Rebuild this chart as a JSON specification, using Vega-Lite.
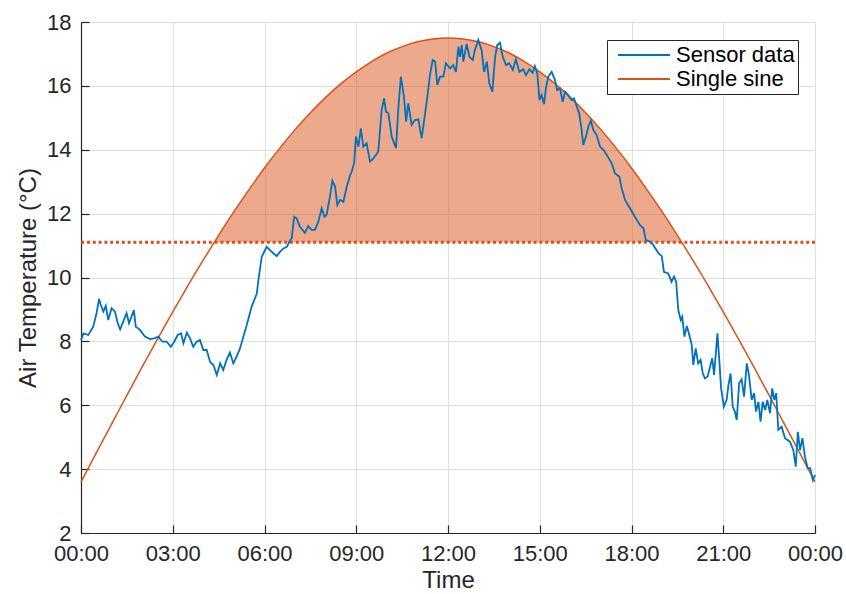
{
  "$schema": "https://vega.github.io/schema/vega-lite/v6.json",
  "width": 734,
  "height": 511,
  "autosize": {"type": "none"},
  "padding": {"left": 81, "top": 22, "right": 31, "bottom": 61},
  "background": "white",
  "config": {
    "view": {"stroke": null},
    "font": "Liberation Sans",
    "axis": {
      "grid": true,
      "gridColor": "#DFDFDF",
      "gridWidth": 1,
      "domainColor": "#262626",
      "domainWidth": 1.2,
      "tickColor": "#262626",
      "tickWidth": 1.2,
      "tickSize": -8,
      "labelFont": "Liberation Sans",
      "labelFontSize": 22,
      "labelColor": "#262626",
      "titleFont": "Liberation Sans",
      "titleFontSize": 24,
      "titleFontWeight": "normal",
      "titleColor": "#262626",
      "labelFlush": false,
      "labelOverlap": false
    }
  },
  "datasets": {
    "sensor": [
      {"h":0,"t":8.04},{"h":0.08,"t":8.25},{"h":0.24,"t":8.2},{"h":0.4,"t":8.46},{"h":0.51,"t":8.89},{"h":0.59,"t":9.33},{"h":0.65,"t":9.14},{"h":0.73,"t":8.93},{"h":0.81,"t":9.11},{"h":0.89,"t":8.67},{"h":1.0,"t":9.04},{"h":1.11,"t":8.93},{"h":1.2,"t":8.57},{"h":1.28,"t":8.38},{"h":1.38,"t":8.62},{"h":1.49,"t":8.88},{"h":1.57,"t":8.57},{"h":1.66,"t":8.8},{"h":1.73,"t":8.98},{"h":1.79,"t":8.46},{"h":1.93,"t":8.36},{"h":2.09,"t":8.15},{"h":2.26,"t":8.07},{"h":2.42,"t":8.1},{"h":2.53,"t":8.15},{"h":2.66,"t":7.99},{"h":2.8,"t":7.99},{"h":2.94,"t":7.83},{"h":3.05,"t":7.99},{"h":3.16,"t":8.2},{"h":3.27,"t":8.25},{"h":3.35,"t":7.94},{"h":3.46,"t":8.27},{"h":3.56,"t":8.1},{"h":3.67,"t":7.83},{"h":3.78,"t":7.99},{"h":3.89,"t":8.04},{"h":4.0,"t":7.73},{"h":4.11,"t":7.73},{"h":4.22,"t":7.36},{"h":4.33,"t":7.26},{"h":4.44,"t":6.95},{"h":4.55,"t":7.31},{"h":4.65,"t":7.1},{"h":4.76,"t":7.42},{"h":4.87,"t":7.65},{"h":4.98,"t":7.31},{"h":5.09,"t":7.52},{"h":5.2,"t":7.78},{"h":5.31,"t":8.15},{"h":5.42,"t":8.51},{"h":5.58,"t":9.09},{"h":5.75,"t":9.5},{"h":5.8,"t":9.92},{"h":5.91,"t":10.65},{"h":6.07,"t":10.96},{"h":6.18,"t":10.86},{"h":6.29,"t":10.76},{"h":6.4,"t":10.67},{"h":6.51,"t":10.81},{"h":6.62,"t":10.91},{"h":6.73,"t":10.96},{"h":6.83,"t":11.15},{"h":6.89,"t":11.23},{"h":6.97,"t":11.9},{"h":7.05,"t":11.85},{"h":7.16,"t":11.59},{"h":7.32,"t":11.4},{"h":7.43,"t":11.61},{"h":7.54,"t":11.49},{"h":7.65,"t":11.49},{"h":7.76,"t":11.75},{"h":7.87,"t":12.17},{"h":7.96,"t":11.9},{"h":8.03,"t":11.96},{"h":8.14,"t":12.53},{"h":8.22,"t":13.03},{"h":8.31,"t":12.84},{"h":8.38,"t":12.27},{"h":8.47,"t":12.43},{"h":8.58,"t":12.37},{"h":8.69,"t":12.84},{"h":8.8,"t":13.21},{"h":8.85,"t":13.31},{"h":8.93,"t":13.58},{"h":8.99,"t":14.41},{"h":9.07,"t":14.1},{"h":9.15,"t":14.67},{"h":9.23,"t":14.1},{"h":9.34,"t":14.2},{"h":9.45,"t":13.63},{"h":9.56,"t":13.73},{"h":9.72,"t":13.94},{"h":9.83,"t":15.24},{"h":9.91,"t":15.61},{"h":9.97,"t":15.19},{"h":10.05,"t":15.14},{"h":10.16,"t":14.41},{"h":10.3,"t":14.05},{"h":10.38,"t":15.35},{"h":10.46,"t":16.29},{"h":10.56,"t":15.66},{"h":10.63,"t":14.88},{"h":10.7,"t":15.45},{"h":10.81,"t":14.78},{"h":10.92,"t":14.93},{"h":11.03,"t":14.95},{"h":11.14,"t":14.36},{"h":11.25,"t":15.14},{"h":11.32,"t":15.61},{"h":11.41,"t":16.34},{"h":11.5,"t":16.81},{"h":11.58,"t":16.76},{"h":11.65,"t":16.03},{"h":11.74,"t":16.29},{"h":11.85,"t":16.29},{"h":11.93,"t":16.71},{"h":12.07,"t":16.55},{"h":12.17,"t":16.65},{"h":12.26,"t":16.44},{"h":12.34,"t":17.23},{"h":12.39,"t":16.91},{"h":12.45,"t":17.28},{"h":12.5,"t":16.76},{"h":12.61,"t":17.31},{"h":12.7,"t":16.91},{"h":12.81,"t":16.81},{"h":12.88,"t":17.12},{"h":12.99,"t":17.44},{"h":13.1,"t":17.12},{"h":13.18,"t":16.44},{"h":13.27,"t":16.76},{"h":13.35,"t":16.08},{"h":13.45,"t":15.82},{"h":13.54,"t":16.91},{"h":13.61,"t":17.28},{"h":13.7,"t":17.35},{"h":13.79,"t":16.91},{"h":13.9,"t":16.65},{"h":14.0,"t":16.71},{"h":14.12,"t":16.5},{"h":14.22,"t":16.83},{"h":14.33,"t":16.44},{"h":14.46,"t":16.52},{"h":14.55,"t":16.34},{"h":14.66,"t":16.52},{"h":14.77,"t":16.41},{"h":14.84,"t":16.62},{"h":14.92,"t":16.39},{"h":14.99,"t":15.56},{"h":15.06,"t":15.71},{"h":15.14,"t":15.43},{"h":15.2,"t":15.92},{"h":15.28,"t":16.29},{"h":15.39,"t":16.44},{"h":15.5,"t":16.18},{"h":15.57,"t":15.87},{"h":15.66,"t":15.92},{"h":15.75,"t":15.5},{"h":15.83,"t":15.82},{"h":15.93,"t":15.71},{"h":16.04,"t":15.56},{"h":16.12,"t":15.61},{"h":16.21,"t":15.35},{"h":16.29,"t":15.14},{"h":16.37,"t":14.62},{"h":16.42,"t":14.15},{"h":16.51,"t":14.41},{"h":16.59,"t":14.72},{"h":16.67,"t":14.91},{"h":16.75,"t":14.62},{"h":16.86,"t":14.46},{"h":16.97,"t":14.1},{"h":17.08,"t":14.0},{"h":17.19,"t":13.84},{"h":17.35,"t":13.58},{"h":17.46,"t":13.26},{"h":17.6,"t":13.16},{"h":17.68,"t":12.79},{"h":17.79,"t":12.43},{"h":17.95,"t":12.17},{"h":18.11,"t":11.9},{"h":18.28,"t":11.64},{"h":18.39,"t":11.54},{"h":18.47,"t":11.17},{"h":18.61,"t":11.12},{"h":18.71,"t":11.02},{"h":18.88,"t":10.76},{"h":18.99,"t":10.67},{"h":19.06,"t":10.18},{"h":19.2,"t":10.13},{"h":19.31,"t":9.87},{"h":19.39,"t":10.03},{"h":19.46,"t":9.87},{"h":19.53,"t":8.98},{"h":19.61,"t":8.67},{"h":19.66,"t":8.77},{"h":19.73,"t":8.15},{"h":19.81,"t":8.48},{"h":19.89,"t":8.2},{"h":19.97,"t":7.89},{"h":20.02,"t":7.26},{"h":20.1,"t":7.78},{"h":20.18,"t":7.31},{"h":20.26,"t":7.42},{"h":20.33,"t":7.0},{"h":20.4,"t":6.84},{"h":20.49,"t":6.9},{"h":20.57,"t":7.21},{"h":20.64,"t":7.47},{"h":20.7,"t":6.95},{"h":20.81,"t":8.25},{"h":20.87,"t":7.42},{"h":20.93,"t":6.53},{"h":21.02,"t":5.96},{"h":21.11,"t":6.17},{"h":21.17,"t":6.63},{"h":21.24,"t":7.0},{"h":21.31,"t":5.96},{"h":21.38,"t":5.8},{"h":21.44,"t":5.54},{"h":21.52,"t":6.69},{"h":21.6,"t":6.81},{"h":21.68,"t":6.27},{"h":21.77,"t":7.31},{"h":21.84,"t":6.95},{"h":21.93,"t":6.17},{"h":22.01,"t":6.38},{"h":22.07,"t":5.8},{"h":22.15,"t":6.11},{"h":22.22,"t":5.49},{"h":22.29,"t":6.11},{"h":22.37,"t":5.85},{"h":22.44,"t":6.17},{"h":22.53,"t":5.75},{"h":22.6,"t":6.53},{"h":22.67,"t":6.17},{"h":22.73,"t":6.38},{"h":22.8,"t":5.23},{"h":22.91,"t":5.33},{"h":23.02,"t":4.97},{"h":23.18,"t":4.86},{"h":23.29,"t":4.6},{"h":23.37,"t":4.08},{"h":23.44,"t":5.17},{"h":23.51,"t":4.6},{"h":23.59,"t":4.97},{"h":23.67,"t":4.39},{"h":23.76,"t":4.03},{"h":23.84,"t":4.03},{"h":23.93,"t":3.66},{"h":24,"t":3.82}
    ],
    "sine": [
      {"h":0,"t":3.6},{"h":0.5,"t":4.51},{"h":1,"t":5.41},{"h":1.5,"t":6.31},{"h":2,"t":7.2},{"h":2.5,"t":8.07},{"h":3,"t":8.92},{"h":3.5,"t":9.75},{"h":4,"t":10.55},{"h":4.5,"t":11.32},{"h":5,"t":12.06},{"h":5.5,"t":12.76},{"h":6,"t":13.43},{"h":6.5,"t":14.05},{"h":7,"t":14.63},{"h":7.5,"t":15.16},{"h":8,"t":15.64},{"h":8.5,"t":16.07},{"h":9,"t":16.44},{"h":9.5,"t":16.76},{"h":10,"t":17.03},{"h":10.5,"t":17.23},{"h":11,"t":17.38},{"h":11.5,"t":17.47},{"h":12,"t":17.5},{"h":12.5,"t":17.47},{"h":13,"t":17.38},{"h":13.5,"t":17.23},{"h":14,"t":17.03},{"h":14.5,"t":16.76},{"h":15,"t":16.44},{"h":15.5,"t":16.07},{"h":16,"t":15.64},{"h":16.5,"t":15.16},{"h":17,"t":14.63},{"h":17.5,"t":14.05},{"h":18,"t":13.43},{"h":18.5,"t":12.76},{"h":19,"t":12.06},{"h":19.5,"t":11.32},{"h":20,"t":10.55},{"h":20.5,"t":9.75},{"h":21,"t":8.92},{"h":21.5,"t":8.07},{"h":22,"t":7.2},{"h":22.5,"t":6.31},{"h":23,"t":5.41},{"h":23.5,"t":4.51},{"h":24,"t":3.6}
    ],
    "fill": [
      {"h":4.353,"t":11.1},{"h":4.5,"t":11.32},{"h":5,"t":12.06},{"h":5.5,"t":12.76},{"h":6,"t":13.43},{"h":6.5,"t":14.05},{"h":7,"t":14.63},{"h":7.5,"t":15.16},{"h":8,"t":15.64},{"h":8.5,"t":16.07},{"h":9,"t":16.44},{"h":9.5,"t":16.76},{"h":10,"t":17.03},{"h":10.5,"t":17.23},{"h":11,"t":17.38},{"h":11.5,"t":17.47},{"h":12,"t":17.5},{"h":12.5,"t":17.47},{"h":13,"t":17.38},{"h":13.5,"t":17.23},{"h":14,"t":17.03},{"h":14.5,"t":16.76},{"h":15,"t":16.44},{"h":15.5,"t":16.07},{"h":16,"t":15.64},{"h":16.5,"t":15.16},{"h":17,"t":14.63},{"h":17.5,"t":14.05},{"h":18,"t":13.43},{"h":18.5,"t":12.76},{"h":19,"t":12.06},{"h":19.5,"t":11.32},{"h":19.647,"t":11.1}
    ],
    "threshold": [{"t": 11.1}]
  },
  "layer": [
    {
      "data": {"name": "fill"},
      "mark": {"type": "area", "color": "#D95319", "opacity": 0.5, "interpolate": "monotone"},
      "encoding": {
        "x": {
          "field": "h", "type": "quantitative",
          "scale": {"domain": [0, 24], "nice": false, "zero": false},
          "axis": {
            "values": [0, 3, 6, 9, 12, 15, 18, 21, 24],
            "labelExpr": "(datum.value % 24 < 10 ? '0' : '') + (datum.value % 24) + ':00'",
            "title": "Time",
            "labelPadding": 18,
            "titlePadding": 4
          }
        },
        "y": {
          "field": "t", "type": "quantitative",
          "scale": {"domain": [2, 18], "nice": false, "zero": false},
          "axis": {
            "values": [2, 4, 6, 8, 10, 12, 14, 16, 18],
            "title": "Air Temperature (°C)",
            "labelPadding": 18,
            "titlePadding": 6
          }
        },
        "y2": {"datum": 11.1}
      }
    },
    {
      "data": {"name": "threshold"},
      "mark": {"type": "rule", "color": "#D95319", "strokeWidth": 3, "strokeDash": [3, 2.8]},
      "encoding": {"y": {"field": "t", "type": "quantitative"}}
    },
    {
      "data": {"name": "sine"},
      "mark": {"type": "line", "strokeWidth": 1.5, "interpolate": "monotone"},
      "encoding": {
        "x": {"field": "h", "type": "quantitative"},
        "y": {"field": "t", "type": "quantitative"},
        "color": {"datum": "Single sine", "type": "nominal"}
      }
    },
    {
      "data": {"name": "sensor"},
      "mark": {"type": "line", "strokeWidth": 1.8},
      "encoding": {
        "x": {"field": "h", "type": "quantitative"},
        "y": {"field": "t", "type": "quantitative"},
        "color": {
          "datum": "Sensor data", "type": "nominal",
          "scale": {"domain": ["Sensor data", "Single sine"], "range": ["#0072BD", "#D95319"]},
          "legend": {
            "orient": "none", "legendX": 526, "legendY": 18, "title": null,
            "symbolType": "stroke", "symbolSize": 2700, "symbolStrokeWidth": 1.8,
            "labelFont": "Liberation Sans", "labelFontSize": 22, "labelColor": "#000000",
            "strokeColor": "#262626", "fillColor": "white", "padding": 3,
            "clipHeight": 24, "rowPadding": 0, "symbolOffset": 7, "labelOffset": 5,
            "direction": "vertical"
          }
        }
      }
    }
  ]
}
